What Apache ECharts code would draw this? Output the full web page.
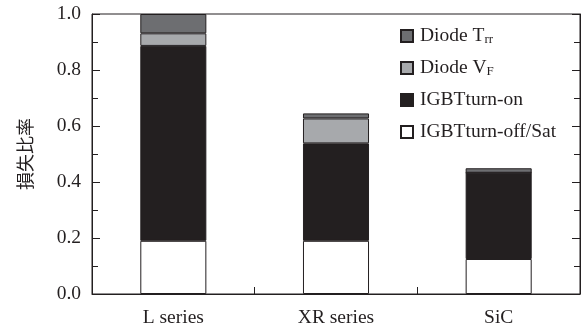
<!DOCTYPE html>
<html>
<head>
<meta charset="utf-8">
<script src="https://cdn.jsdelivr.net/npm/echarts@6/dist/echarts.min.js"></script>
<style>
  html, body { margin: 0; padding: 0; background: #fff; }
  #chart { width: 585px; height: 329px; }
</style>
</head>
<body>
<div id="chart"></div>
<script>
// Loss ratio breakdown per device family
const categories = ['L series', 'XR series', 'SiC'];
const igbtOffSat = [0.19, 0.19, 0.125];
const igbtOn = [0.696, 0.348, 0.308];
const diodeVf = [0.045, 0.089, 0];
const diodeTrr = [0.069, 0.018, 0.016];
const yTicks = ['0.0', '0.2', '0.4', '0.6', '0.8', '1.0'];

const serif = '"Liberation Serif", "DejaVu Serif", serif';
const ink = '#231f20';

const seriesDefs = [
  { name: 'IGBTturn-off/Sat', data: igbtOffSat, color: '#ffffff' },
  { name: 'IGBTturn-on', data: igbtOn, color: '#231f20' },
  { name: 'Diode VF', data: diodeVf, color: '#a7a9ac' },
  { name: 'Diode Trr', data: diodeTrr, color: '#6d6e71' }
];

const legendLabels = {
  'Diode Trr': 'Diode T{sub|rr}',
  'Diode VF': 'Diode V{sub|F}',
  'IGBTturn-on': 'IGBTturn-on',
  'IGBTturn-off/Sat': 'IGBTturn-off/Sat'
};

const tickAxis = (position) => ({
  type: 'value',
  position: position,
  min: 0,
  max: 1,
  interval: 0.2,
  axisLine: { show: true, lineStyle: { color: ink, width: 1 } },
  axisTick: { show: true, inside: true, length: 8, lineStyle: { color: ink } },
  minorTick: { show: true, splitNumber: 2, length: 6, lineStyle: { color: ink } },
  splitLine: { show: false },
  axisLabel: position === 'left' ? {
    show: true,
    margin: 11,
    color: ink,
    fontFamily: serif,
    fontSize: 19.5,
    formatter: (v) => yTicks[Math.round(v / 0.2)]
  } : { show: false }
});

const chart = echarts.init(document.getElementById('chart'));
chart.setOption({
  animation: false,
  backgroundColor: '#fff',
  grid: {
    left: 92, right: 5, top: 14, bottom: 35,
    show: true, borderColor: ink, borderWidth: 1, backgroundColor: 'transparent'
  },
  legend: {
    orient: 'vertical',
    left: 400,
    top: 26,
    padding: 0,
    itemWidth: 12,
    itemHeight: 12,
    itemGap: 12,
    icon: 'rect',
    data: ['Diode Trr', 'Diode VF', 'IGBTturn-on', 'IGBTturn-off/Sat'],
    formatter: (name) => legendLabels[name],
    textStyle: {
      color: ink,
      fontFamily: serif,
      fontSize: 19.5,
      lineHeight: 18,
      padding: [0, 0, 0, 2],
      rich: {
        sub: { fontFamily: serif, fontSize: 13, color: ink, padding: [7, 0, 0, 0] }
      }
    }
  },
  xAxis: {
    type: 'category',
    data: categories,
    axisLine: { show: true, lineStyle: { color: ink, width: 1 } },
    axisTick: { show: true, inside: true, length: 7, lineStyle: { color: ink } },
    axisLabel: { color: ink, fontFamily: serif, fontSize: 19.5, margin: 14 }
  },
  yAxis: [
    Object.assign(tickAxis('left'), {
      name: '損失比率',
      nameLocation: 'middle',
      nameRotate: 90,
      nameGap: 58,
      nameTextStyle: { color: ink, fontFamily: '"Noto Sans CJK JP", sans-serif', fontSize: 18 }
    }),
    tickAxis('right')
  ],
  series: seriesDefs.map((s) => ({
    name: s.name,
    type: 'bar',
    stack: 'loss',
    barWidth: '40.6%',
    data: s.data,
    itemStyle: { color: s.color, borderColor: ink, borderWidth: 1 },
    emphasis: { disabled: true }
  }))
});
</script>
</body>
</html>
